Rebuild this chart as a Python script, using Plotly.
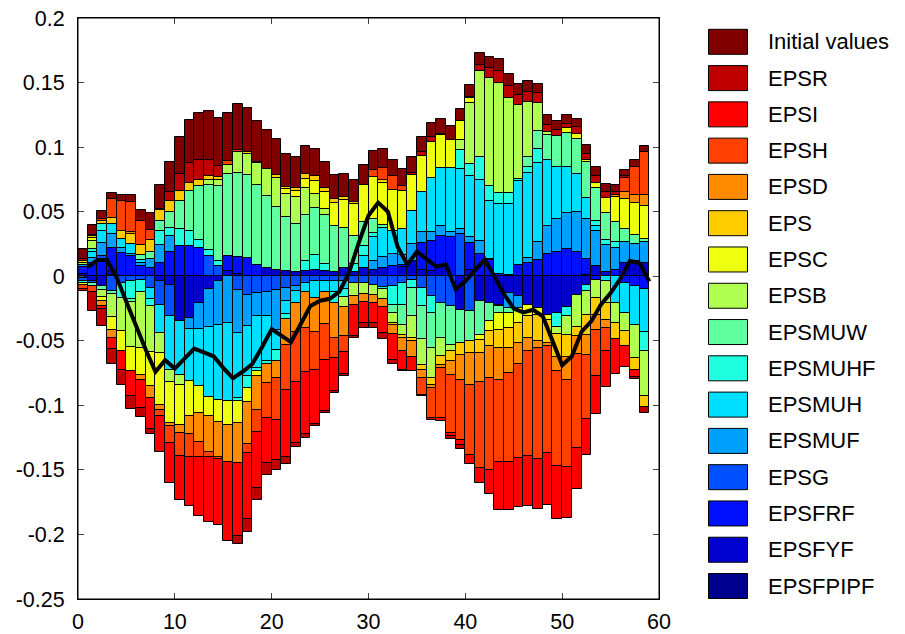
import plotly.graph_objects as go

# ---------------- data ----------------
periods = list(range(1, 60))          # line points (right edge of each period's bar)
bar_centers = [p - 0.5 for p in periods]

epsfpipf = [-0.001, 0, 0, 0.001, 0, 0, 0, 0, 0, 0,
            0, 0, 0, 0, 0, 0, 0, 0, 0, 0.0004,
            0, 0, 0, 0, 0, 0, 0, 0, 0, 0,
            0, 0, 0, 0, 0, 0, 0, 0, 0, 0,
            0, 0, 0, 0, 0, 0, 0, 0, 0, 0,
            0, 0, 0.0007, 0, 0, 0, 0, 0, 0]
epsfyf = [0.002, -0.004, -0.0072, 0.003, 0, 0, 0, 0, -0.004, -0.0065,
          -0.035, -0.032, -0.0206, -0.010, -0.004, 0.004, 0.0017, 0, 0, 0.0057,
          0.005, 0.004, 0.003, 0.0039, 0.0046, 0.0039, 0.0031, 0.006, 0.003, 0.0064,
          0.0052, 0.006, 0, 0.007, 0.0116, 0.005, 0.0037, 0.0077, 0, -0.026,
          0.005, -0.0195, -0.0208, -0.0221, -0.013, -0.0155, -0.022, -0.0245, -0.0297, -0.0284,
          -0.0239, -0.0142, -0.0065, 0.0077, 0.0034, 0, 0.0103, 0.0116, 0.0103]
epsfrf = [0.005, 0.010, 0.011, 0.018, 0.018, 0.0155, 0.0077, 0.006, 0.0103, 0.0188,
          0.0237, 0.0237, 0.022, 0, 0, 0.0116, 0.0134, 0.014, 0.009, 0,
          0, 0, 0, 0, 0, 0, 0, 0, 0, 0,
          0, 0, 0.008, 0.0017, 0, 0.0206, 0.0232, 0.0232, 0.030, 0,
          0.0206, 0.0175, 0.0124, 0.0018, 0.001, 0.009, 0.010, 0.0129, 0.0173, 0.019,
          0.021, 0.019, 0.013, -0.0027, 0, 0.005, -0.0053, -0.0074, -0.0098]
epsg = [-0.0025, -0.0015, 0.0047, -0.0116, -0.0055, -0.0039, -0.0026, -0.009, -0.018, -0.0245,
        0, 0, 0, 0.0155, 0.0077, 0, -0.0103, -0.0142, -0.013, -0.0124,
        -0.0104, -0.009, -0.0077, -0.0052, -0.004, -0.004, -0.004, -0.004, -0.005, -0.005,
        -0.0066, -0.0087, -0.0077, -0.0053, -0.0027, -0.009, -0.0156, -0.0208, -0.0234, 0.033,
        -0.0272, 0, 0, 0, 0, 0, 0, 0, 0, 0,
        0, 0, 0, 0, 0, 0, 0, 0, 0]
epsmuf = [0.002, 0.004, 0.0103, 0.0108, 0.0039, 0.0014, 0.0026, 0.0077, 0.0142, 0.0126,
          0, -0.009, -0.0206, -0.0297, -0.034, -0.036, -0.0335, -0.024, -0.018, -0.0186,
          -0.031, -0.0103, -0.0039, 0, 0, 0, 0, 0, 0, 0,
          0.0064, 0.009, 0.009, 0.008, 0.0137, 0.009, 0.0077, 0.0077, 0.0045, 0.0036,
          0.005, 0.0095, 0.001, -0.0013, -0.0116, -0.009, 0.004, 0.0134, 0.0219, 0.025,
          0.0279, 0.031, 0.0304, 0.027, 0.021, 0.0168, 0.016, 0.0134, 0.0163]
epsmuh = [0, 0.005, 0.009, 0.0077, 0.0072, 0.0077, 0.0024, -0.009, -0.022, -0.0413,
          -0.0413, -0.040, -0.0439, -0.054, -0.058, -0.061, -0.0503, -0.0392, -0.040, -0.0348,
          -0.0155, -0.0103, -0.009, -0.0072, -0.013, -0.008, -0.008, -0.006, 0, 0.009,
          0.0188, 0.022, 0.018, 0.0198, 0.025, 0.031, 0.0418, 0.045, 0.049, 0.0464,
          0.0472, 0.0477, 0.0446, 0.0544, 0.0547, 0.0645, 0.0663, 0.0614, 0.051, 0.0408,
          0.0356, 0.029, 0.0165, 0.0039, -0.004, -0.0206, -0.0232, -0.0302, -0.0335]
epsmuhf = [-0.0015, 0.002, 0.0057, 0, -0.0113, -0.0134, -0.0098, -0.005, 0.0108, 0.0057,
           0.0129, 0.011, 0.0064, 0.0046, 0.0044, 0, -0.0026, -0.009, -0.0026, -0.002,
           -0.009, -0.0039, 0, 0.0077, 0.0116, 0.0057, -0.0086, -0.006, 0.0063, 0.0077,
           0.003, -0.0013, -0.0142, -0.0168, -0.0065, -0.0142, -0.0129, 0, 0, 0.015,
           0.009, 0.018, 0.0121, 0.0083, 0.009, 0.002, 0.0046, 0.0108, 0, -0.0108,
           -0.0072, 0, -0.0052, 0.0039, 0.0039, 0.005, 0, 0, -0.0147]
epsmuw = [0, -0.002, -0.0036, -0.002, 0, -0.0028, 0.0034, 0.005, 0.0077, 0.013,
          0.0219, 0.031, 0.0418, 0.0508, 0.058, 0.0632, 0.0648, 0.0645, 0.062, 0.0562,
          0.0485, 0.042, 0.0374, 0.0359, 0.0366, 0.0382, 0.0356, 0.0312, 0.022, 0.0186,
          0.0108, 0.003, -0.0065, -0.0155, -0.0219, -0.0258, -0.0271, -0.0271, -0.0297, -0.0258,
          -0.0232, -0.0258, -0.0142, -0.0052, -0.0039, 0, 0.0077, 0.0137, 0.019, 0.0237,
          0.0268, 0.0276, 0.0279, 0.0258, 0.0206, 0.0155, 0.0106, 0.0067, 0.0023]
epsb = [0.0015, 0.0065, -0.005, -0.0183, -0.026, -0.0348, -0.043, -0.036, -0.0155, -0.0095,
        -0.0077, 0, 0, 0.0034, 0.0041, 0.007, 0.016, 0.0163, 0.0168, 0.0206,
        0.0224, 0.018, 0.0209, 0.0209, 0.0108, 0.0044, 0, -0.008, -0.0103, -0.009,
        -0.0077, -0.0077, -0.0077, -0.0077, -0.0168, -0.0194, -0.0232, -0.0142, -0.0052, 0.0077,
        0.047, 0.0666, 0.0833, 0.085, 0.073, 0.0573, 0.0426, 0.022, 0.0026, -0.0059,
        -0.0142, -0.025, -0.018, -0.0142, -0.0168, -0.0155, -0.0142, -0.0258, -0.0348]
epsc = [-0.0015, 0.002, -0.003, -0.010, -0.015, -0.0188, -0.0214, -0.026, -0.040, -0.0317,
        -0.031, -0.027, -0.021, -0.0142, -0.0168, -0.018, -0.0168, -0.0111, -0.0039, 0,
        0, 0.0036, 0.0044, 0.007, 0.0098, 0.0129, 0.018, 0.0219, 0.0245, 0.0286,
        0.0325, 0.032, 0.032, 0.0297, 0.028, 0.0276, 0.0279, 0.0258, 0.0222, 0.0142,
        0.0039, -0.0039, -0.0077, -0.0129, -0.0116, -0.0116, -0.009, -0.0052, -0.0039, 0,
        0.0034, 0.0039, 0.0018, 0.0039, 0.0116, 0.0194, 0.023, 0.025, 0.0258]
eps = [0.0015, 0.0015, 0.0018, 0.0046, 0.0062, 0.008, 0.0083, 0.009, 0.008, 0.0085,
       0.0072, 0.0064, 0.0046, 0.0031, 0.0026, 0, 0, 0.0014, 0.0006, 0,
       0.0026, 0.0015, 0.0026, 0.0036, 0.0039, 0.0034, 0.0031, 0.002, 0.0015, 0.0005,
       0, 0.0022, -0.0013, -0.0026, -0.0026, -0.0039, -0.0052, -0.0065, -0.0077, -0.009,
       -0.009, -0.0103, -0.0116, -0.0142, -0.0155, -0.0155, -0.0168, -0.0206, -0.018, -0.0173,
       -0.0173, -0.0072, -0.0155, -0.0129, -0.0129, -0.0129, -0.0116, -0.009, -0.0083]
epsd = [0, 0, -0.004, -0.006, 0, 0.0015, -0.0039, -0.009, -0.0044, -0.0026,
        -0.0065, -0.0142, -0.022, -0.028, -0.027, -0.029, -0.031, -0.0328, -0.0258, -0.0147,
        -0.0129, -0.020, -0.0227, -0.0276, -0.026, -0.025, -0.027, -0.022, -0.0072, -0.006,
        -0.0065, -0.0062, -0.0077, -0.0103, -0.0121, -0.0065, -0.0026, -0.0026, -0.0103, -0.0194,
        -0.0245, -0.0227, -0.0245, -0.0245, -0.0194, -0.016, -0.0103, -0.0052, -0.0026, -0.0111,
        -0.018, -0.0142, -0.0155, -0.0116, -0.0065, 0.0013, 0.0052, 0.006, 0.008]
epsh = [-0.0032, -0.0044, 0.002, 0.0147, 0.0232, 0.0237, 0.018, 0.0083, -0.004, -0.0129,
        -0.018, -0.018, -0.012, -0.004, -0.0015, 0.0031, 0.0015, -0.0065, -0.0175, -0.0271,
        -0.0328, -0.035, -0.0387, -0.0343, -0.030, -0.028, -0.0155, -0.013, 0, 0,
        0.0057, 0.0095, 0.0103, 0.0039, 0, -0.0129, -0.0232, -0.0387, -0.0452, -0.047,
        -0.0542, -0.0663, -0.071, -0.064, -0.0691, -0.073, -0.0813, -0.0859, -0.083, -0.0735,
        -0.0671, -0.0722, -0.0498, -0.0356, -0.018, 0, 0.011, 0.0219, 0.0333]
epsi = [-0.002, 0.0013, -0.0026, -0.0085, -0.0147, -0.0188, -0.0212, -0.024, -0.0284, -0.031,
        -0.034, -0.0374, -0.0457, -0.0501, -0.0511, -0.0612, -0.0568, -0.0516, -0.0431, -0.0348,
        -0.0304, -0.0514, -0.047, -0.0482, -0.0417, -0.0394, -0.0258, -0.017, -0.024, -0.0162,
        -0.0155, -0.0201, -0.0194, -0.0142, -0.0111, -0.0013, -0.0018, -0.0026, -0.0026, -0.0034,
        -0.0077, -0.0116, -0.0186, -0.0366, -0.0372, -0.038, -0.0382, -0.0392, -0.0397, -0.0413,
        -0.0395, -0.0317, -0.0276, -0.0294, -0.0279, -0.0266, -0.0163, -0.0057, 0]
epsr = [0.001, -0.0153, -0.0134, -0.0116, -0.0116, -0.0103, -0.0072, -0.0044, 0.0012, 0.0064,
        0.0134, 0.0155, 0.0155, 0.0129, 0.0083, 0, -0.0059, -0.0098, -0.0095, -0.0098,
        -0.0077, -0.0054, -0.0031, -0.0026, -0.0015, -0.0015, -0.0013, -0.001, -0.0015, -0.0039,
        -0.0039, -0.0044, -0.0034, -0.0013, 0.0018, 0.0034, 0.0034, 0.0009, -0.0021, -0.0034,
        0.0008, 0.0041, 0.0077, 0.0098, 0.0098, 0.0077, 0.0077, 0.0077, 0.0057, 0.0046,
        0.0034, 0.0052, 0.0046, 0.0057, 0.0044, 0.002, 0.0013, -0.0013, -0.0046]
initial_values = [0.008, 0.0077, 0.0062, 0.0046, 0.0044, 0.0052, 0.0088, 0.013, 0.0188, 0.0237,
                  0.0286, 0.0335, 0.0361, 0.038, 0.0374, 0.0374, 0.0359, 0.0338, 0.032, 0.030,
                  0.0279, 0.0258, 0.024, 0.0222, 0.0212, 0.0199, 0.0188, 0.018, 0.017, 0.0155,
                  0.0147, 0.015, 0.013, 0.0129, 0.0124, 0.0116, 0.0108, 0.0114, 0.0103, 0.0098,
                  0.0095, 0.0093, 0.009, 0.0088, 0.0088, 0.0083, 0.0083, 0.0072, 0.0072, 0.007,
                  0.0067, 0.0057, 0.0064, 0.0064, 0.0064, 0.0057, 0.0052, 0.0052, 0.0052]

endogenous = [0.007, 0.0125, 0.0125, -0.001, -0.02, -0.039, -0.057, -0.074, -0.065, -0.0715,
              -0.064, -0.056, -0.059, -0.062, -0.071, -0.079, -0.074, -0.068, -0.055, -0.041,
              -0.046, -0.051, -0.037, -0.023, -0.019, -0.0175, -0.012, 0.003, 0.026, 0.047,
              0.057, 0.050, 0.023, 0.009, 0.019, 0.013, 0.0075, 0.009, -0.010, -0.004,
              0.004, 0.013, 0.0, -0.014, -0.025, -0.028, -0.026, -0.031, -0.050, -0.069,
              -0.062, -0.043, -0.035, -0.022, -0.013, -0.002, 0.012, 0.010, -0.004]

# stacking order: first = closest to zero
series_names = ["EPSFPIPF", "EPSFYF", "EPSFRF", "EPSG", "EPSMUF", "EPSMUH", "EPSMUHF",
                "EPSMUW", "EPSB", "EPSC", "EPS", "EPSD", "EPSH", "EPSI", "EPSR", "Initial values"]
series_values = [epsfpipf, epsfyf, epsfrf, epsg, epsmuf, epsmuh, epsmuhf,
                 epsmuw, epsb, epsc, eps, epsd, epsh, epsi, epsr, initial_values]
series_colors = ["#00008F", "#0000CF", "#0010FF", "#0050FF", "#00A0FF", "#00DFFF", "#20FFDF",
                 "#60FF9F", "#B0FF50", "#EFFF10", "#FFCC00", "#FF8C00", "#FF4000", "#FF0000",
                 "#BF0000", "#800000"]

y_tickvals = [-0.25, -0.2, -0.15, -0.1, -0.05, 0, 0.05, 0.1, 0.15, 0.2]
y_ticktext = ["-0.25", "-0.2", "-0.15", "-0.1", "-0.05", "0", "0.05", "0.1", "0.15", "0.2"]
x_tickvals = [0, 10, 20, 30, 40, 50, 60]

# ---------------- figure ----------------
FONT = "Liberation Sans, Arial, Helvetica, sans-serif"
fig = go.Figure()
for name, vals, col in zip(series_names, series_values, series_colors):
    fig.add_trace(go.Bar(
        x=bar_centers, y=[v if v != 0 else None for v in vals], width=1.0, name=name,
        marker=dict(color=col, line=dict(color="black", width=1)),
        showlegend=False))

fig.add_trace(go.Scatter(x=periods, y=endogenous, mode="lines",
                         line=dict(color="black", width=4), showlegend=False))

W, H = 905, 634
L, R, T, B = 78, 246, 18, 35
pw, ph = W - L - R, H - T - B

# manual legend (top entry = last stacked series)
shapes = [dict(type="rect", xref="paper", yref="paper", x0=0, x1=1, y0=0, y1=1,
               line=dict(color="black", width=1), layer="above")]
annotations = []
for k, idx in enumerate(range(len(series_names) - 1, -1, -1)):
    cy = 41.8 + 36.28 * k
    y0 = (H - B - (cy + 12.5)) / ph
    y1 = (H - B - (cy - 12.5)) / ph
    x0 = (708.5 - L) / pw
    x1 = (747.5 - L) / pw
    shapes.append(dict(type="rect", xref="paper", yref="paper", x0=x0, x1=x1, y0=y0, y1=y1,
                       fillcolor=series_colors[idx], line=dict(color="black", width=1)))
    annotations.append(dict(xref="paper", yref="paper", x=(766 - L) / pw, y=(H - B - cy) / ph,
                            text=series_names[idx], showarrow=False, xanchor="left",
                            yanchor="middle", font=dict(family=FONT, size=22, color="black")))

fig.update_layout(
    template="none",
    width=W, height=H,
    margin=dict(l=L, r=R, t=T, b=B, pad=0),
    paper_bgcolor="white", plot_bgcolor="white",
    barmode="relative", bargap=0,
    font=dict(family=FONT, size=21.5, color="black"),
    shapes=shapes, annotations=annotations,
    xaxis=dict(range=[0, 60], tickvals=x_tickvals, ticks="inside", ticklen=6,
               tickcolor="#444444", showline=True, linecolor="black", linewidth=1,
               mirror="ticks", showgrid=False, zeroline=False, ticklabelstandoff=3,
               automargin=False),
    yaxis=dict(range=[-0.25, 0.2], tickvals=y_tickvals, ticktext=y_ticktext, ticks="inside",
               ticklen=6, tickcolor="#444444", showline=True, linecolor="black", linewidth=1,
               mirror="ticks", showgrid=False, zeroline=False, ticklabelstandoff=8,
               automargin=False),
)

fig.write_html("out.html")
